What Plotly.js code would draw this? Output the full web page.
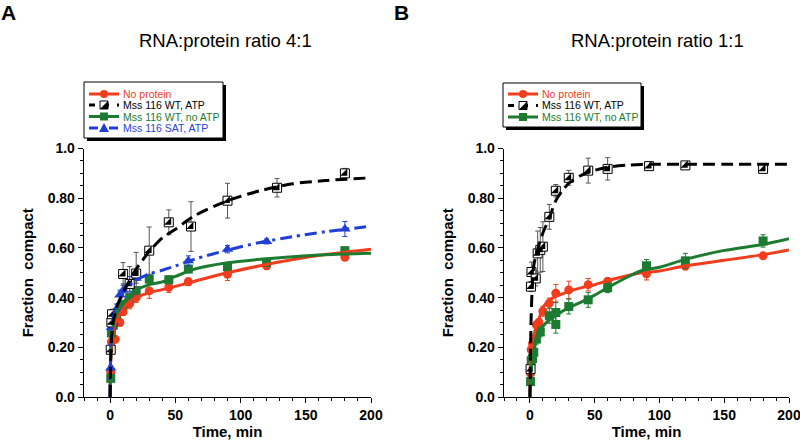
<!DOCTYPE html>
<html><head><meta charset="utf-8">
<script src="https://cdn.plot.ly/plotly-3.0.1.min.js"></script>
<style>html,body{margin:0;padding:0;background:#fff}#chart{width:800px;height:440px}</style>
</head><body><div id="chart"></div>
<script>
// ---------- series names & colours ----------
const seriesNames = ["No protein", "Mss 116 WT, ATP", "Mss 116 WT, no ATP", "Mss 116 SAT, ATP"];
const seriesColors = ["#f23c1e", "#000000", "#1c7a31", "#1f3fd6"];
const panelTitles = ["RNA:protein ratio 4:1", "RNA:protein ratio 1:1"];
const panelLetters = ["A", "B"];
const xTickVals = [0, 50, 100, 150, 200];
const yTickVals = [0, 0.2, 0.4, 0.6, 0.8, 1.0];
const yTickText = ["0.0", "0.20", "0.40", "0.60", "0.80", "1.0"];

// ---------- Panel A (4:1) measured points ----------
const aRedT = [0.5, 1, 4, 7.5, 10, 15, 20, 30, 45, 60, 90, 120, 180];
const aRedV = [0.10, 0.222, 0.232, 0.30, 0.343, 0.375, 0.40, 0.427, 0.441, 0.464, 0.494, 0.528, 0.562];
const aRedE = [0.01, 0.01, 0.01, 0.015, 0.015, 0.02, 0.02, 0.03, 0.02, 0.015, 0.025, 0.015, 0.01];

const aBlkT = [0.5, 1, 1.5, 10, 15, 20, 30, 45, 62, 90, 128, 180];
const aBlkV = [0.19, 0.30, 0.333, 0.495, 0.455, 0.497, 0.589, 0.703, 0.686, 0.79, 0.842, 0.90];
const aBlkE = [0.01, 0.015, 0.02, 0.046, 0.07, 0.085, 0.095, 0.05, 0.1, 0.07, 0.037, 0.02];

const aGrnT = [0.5, 1, 2.5, 5, 10, 15, 20, 30, 45, 60, 90, 120, 180];
const aGrnV = [0.075, 0.258, 0.29, 0.333, 0.371, 0.40, 0.428, 0.475, 0.472, 0.515, 0.524, 0.541, 0.589];
const aGrnE = [0.01, 0.01, 0.01, 0.015, 0.015, 0.015, 0.015, 0.015, 0.015, 0.015, 0.015, 0.01, 0.01];

const aBluT = [0.5, 1, 2.5, 5, 7.5, 10, 15, 20, 60, 90, 120, 180];
const aBluV = [0.117, 0.28, 0.30, 0.354, 0.41, 0.43, 0.455, 0.478, 0.548, 0.595, 0.626, 0.676];
const aBluE = [0.01, 0.01, 0.015, 0.02, 0.02, 0.025, 0.03, 0.02, 0.02, 0.015, 0.01, 0.03];

// ---------- Panel A fitted curves ----------
const aFitT = [0, 0.5, 1, 2, 5, 10, 15, 20, 30, 40, 50, 65, 90, 115, 140, 165, 200];
const aFitRed = [0, 0.15, 0.2, 0.25, 0.31, 0.355, 0.385, 0.40, 0.42, 0.432, 0.445, 0.466, 0.50, 0.528, 0.553, 0.573, 0.595];
const aFitBlk = [0, 0.15, 0.22, 0.29, 0.36, 0.42, 0.47, 0.515, 0.585, 0.64, 0.675, 0.73, 0.79, 0.83, 0.858, 0.871, 0.882];
const aFitGrn = [0, 0.18, 0.24, 0.28, 0.34, 0.38, 0.41, 0.43, 0.452, 0.463, 0.485, 0.515, 0.54, 0.554, 0.564, 0.572, 0.578];
const aFitBlu = [0, 0.2, 0.27, 0.31, 0.37, 0.42, 0.45, 0.47, 0.495, 0.51, 0.527, 0.555, 0.591, 0.622, 0.645, 0.665, 0.687];

// ---------- Panel B (1:1) measured points ----------
const bRedT = [0.5, 1, 2, 5, 7, 10, 15, 20, 30, 45, 60, 90, 120, 180];
const bRedV = [0.095, 0.19, 0.215, 0.29, 0.30, 0.345, 0.378, 0.418, 0.431, 0.452, 0.465, 0.496, 0.527, 0.568];
const bRedE = [0.01, 0.01, 0.01, 0.015, 0.015, 0.02, 0.02, 0.035, 0.035, 0.025, 0.015, 0.025, 0.015, 0.01];

const bBlkT = [0.5, 0.8, 1.2, 4.5, 6, 8, 10, 15, 20, 30, 45, 60, 92, 120, 180];
const bBlkV = [0.112, 0.444, 0.503, 0.477, 0.578, 0.592, 0.605, 0.725, 0.83, 0.882, 0.911, 0.918, 0.929, 0.932, 0.918];
const bBlkE = [0.01, 0.02, 0.04, 0.03, 0.09, 0.09, 0.1, 0.05, 0.025, 0.03, 0.05, 0.045, 0.01, 0.01, 0.01];

const bGrnT = [0.5, 1, 2, 3, 5, 8, 15, 20, 20, 30, 45, 60, 90, 120, 180];
const bGrnV = [0.062, 0.146, 0.155, 0.18, 0.233, 0.262, 0.327, 0.34, 0.292, 0.364, 0.391, 0.44, 0.528, 0.548, 0.628];
const bGrnE = [0.01, 0.01, 0.01, 0.015, 0.02, 0.02, 0.03, 0.04, 0.035, 0.03, 0.03, 0.02, 0.025, 0.03, 0.025];

// ---------- Panel B fitted curves ----------
const bFitT = [0, 0.5, 1, 2, 3, 5, 8, 10, 15, 20, 25, 30, 40, 50, 60, 75, 86, 100, 120, 150, 180, 200];
const bFitBlk = [0, 0.2, 0.33, 0.46, 0.53, 0.575, 0.63, 0.66, 0.72, 0.79, 0.83, 0.86, 0.893, 0.912, 0.925, 0.933, 0.936, 0.937, 0.937, 0.937, 0.937, 0.937];
const bFitRed = [0, 0.15, 0.2, 0.23, 0.25, 0.285, 0.33, 0.36, 0.39, 0.405, 0.415, 0.425, 0.44, 0.452, 0.468, 0.488, 0.50, 0.507, 0.528, 0.55, 0.573, 0.592];
const bFitGrn = [0, 0.07, 0.11, 0.15, 0.18, 0.23, 0.27, 0.285, 0.31, 0.327, 0.345, 0.36, 0.383, 0.41, 0.44, 0.482, 0.508, 0.522, 0.554, 0.59, 0.614, 0.637];

// ---------- helpers ----------
const FONT = "Liberation Sans, Arial, Helvetica, sans-serif";
const W = 800, H = 440;
const px = x => x / W, py = y => 1 - y / H;
const dashStyles = ["solid", "12px,6px", "solid", "12px,5px,3px,5px"];

function pointsTrace(t, v, e, idx, ax) {
  const c = seriesColors[idx];
  const isBlk = idx === 1;
  const sym = ["circle", "square", "square", "triangle-up"][idx];
  return {
    x: t, y: v, xaxis: ax[0], yaxis: ax[1], type: "scatter", mode: "markers",
    showlegend: false, cliponaxis: false,
    marker: { symbol: sym, size: idx === 3 ? 10 : 9, color: isBlk ? "#ffffff" : c,
              line: { color: isBlk ? "#000" : c, width: isBlk ? 1 : 0 } },
    error_y: { type: "data", array: e, visible: true, color: isBlk ? "#555" : c, thickness: 1, width: 2.5 }
  };
}
function halfFill(t, v, ax) {
  return { x: t, y: v, xaxis: ax[0], yaxis: ax[1], type: "scatter", mode: "markers", showlegend: false,
    cliponaxis: false, marker: { symbol: "triangle-se", size: 8, color: "#000" } };
}
function fitTrace(t, v, idx, ax) {
  return { x: t, y: v, xaxis: ax[0], yaxis: ax[1], type: "scatter", mode: "lines", showlegend: false,
    line: { color: seriesColors[idx], width: 3, shape: "spline", smoothing: 0.8, dash: dashStyles[idx] } };
}

const axA = ["x", "y"], axB = ["x2", "y2"];
const data = [
  pointsTrace(aRedT, aRedV, aRedE, 0, axA),
  pointsTrace(aGrnT, aGrnV, aGrnE, 2, axA),
  pointsTrace(aBluT, aBluV, aBluE, 3, axA),
  pointsTrace(aBlkT, aBlkV, aBlkE, 1, axA),
  halfFill(aBlkT, aBlkV, axA),
  fitTrace(aFitT, aFitRed, 0, axA),
  fitTrace(aFitT, aFitGrn, 2, axA),
  fitTrace(aFitT, aFitBlu, 3, axA),
  fitTrace(aFitT, aFitBlk, 1, axA),

  pointsTrace(bRedT, bRedV, bRedE, 0, axB),
  pointsTrace(bGrnT, bGrnV, bGrnE, 2, axB),
  pointsTrace(bBlkT, bBlkV, bBlkE, 1, axB),
  halfFill(bBlkT, bBlkV, axB),
  fitTrace(bFitT, bFitRed, 0, axB),
  fitTrace(bFitT, bFitGrn, 2, axB),
  fitTrace(bFitT, bFitBlk, 1, axB)
];

const yDom = [1 - 397 / H, 1 - 148.5 / H];
function xAxis(dom, anchor) {
  return {
    domain: dom, anchor: anchor, range: [-20, 200], showgrid: false, zeroline: false,
    showline: true, linecolor: "#000", linewidth: 1.3, ticks: "outside", ticklen: 5, tickwidth: 1, tickcolor: "#000",
    tickmode: "array", tickvals: xTickVals, ticktext: xTickVals.map(String), ticklabeloverflow: "allow",
    tickfont: { family: FONT, size: 14, weight: "bold", color: "#000" },
    minor: { tickmode: "linear", tick0: 0, dtick: 10, ticks: "outside", ticklen: 3, tickcolor: "#000", tickwidth: 1, showgrid: false },
    title: { text: "Time, min", font: { family: FONT, size: 15, weight: "bold", color: "#000" }, standoff: 6 }
  };
}
function yAxis(anchor) {
  return {
    domain: yDom, anchor: anchor, range: [0, 1], showgrid: false, zeroline: false,
    showline: true, linecolor: "#000", linewidth: 1.3, ticks: "outside", ticklen: 5, tickwidth: 1, tickcolor: "#000",
    tickmode: "array", tickvals: yTickVals, ticktext: yTickText,
    tickfont: { family: FONT, size: 14, weight: "bold", color: "#000" },
    minor: { tickmode: "linear", tick0: 0, dtick: 0.05, ticks: "outside", ticklen: 3, tickcolor: "#000", tickwidth: 1, showgrid: false },
    title: { text: "Fraction  compact", font: { family: FONT, size: 15, weight: "bold", color: "#000" }, standoff: 10 }
  };
}

// ---------- legends (box + shadow + samples + coloured text) ----------
const shapes = [], annotations = [];
function legend(box, rows, idxs) {
  shapes.push({ type: "rect", xref: "paper", yref: "paper", x0: px(box[0] + 3), x1: px(box[2] + 3), y0: py(box[1] + 3), y1: py(box[3] + 3),
    fillcolor: "#000", line: { width: 0 } });
  shapes.push({ type: "rect", xref: "paper", yref: "paper", x0: px(box[0]), x1: px(box[2]), y0: py(box[1]), y1: py(box[3]),
    fillcolor: "#fff", line: { color: "#000", width: 1 } });
  idxs.forEach((idx, k) => {
    const yc = rows[k], x0 = box[0] + 5, x1 = x0 + 30, xm = (x0 + x1) / 2, c = seriesColors[idx];
    const dash = idx === 1 ? "6px,8px" : (idx === 3 ? "9px,4px,3px,4px" : "solid");
    shapes.push({ type: "line", xref: "paper", yref: "paper", x0: px(x0), x1: px(x1), y0: py(yc), y1: py(yc),
      line: { color: c, width: 3, dash: dash } });
    if (idx === 0) {
      shapes.push({ type: "circle", xref: "paper", yref: "paper", x0: px(xm - 4), x1: px(xm + 4), y0: py(yc - 4), y1: py(yc + 4), fillcolor: c, line: { width: 0 } });
    } else if (idx === 2) {
      shapes.push({ type: "rect", xref: "paper", yref: "paper", x0: px(xm - 4), x1: px(xm + 4), y0: py(yc - 4), y1: py(yc + 4), fillcolor: c, line: { width: 0 } });
    } else if (idx === 3) {
      shapes.push({ type: "path", xref: "paper", yref: "paper",
        path: `M ${px(xm - 5)} ${py(yc + 4)} L ${px(xm + 5)} ${py(yc + 4)} L ${px(xm)} ${py(yc - 5)} Z`, fillcolor: c, line: { width: 0 } });
    } else {
      shapes.push({ type: "rect", xref: "paper", yref: "paper", x0: px(xm - 4), x1: px(xm + 4), y0: py(yc - 4), y1: py(yc + 4), fillcolor: "#fff", line: { color: "#000", width: 1 } });
      shapes.push({ type: "path", xref: "paper", yref: "paper",
        path: `M ${px(xm - 4)} ${py(yc + 4)} L ${px(xm + 4)} ${py(yc + 4)} L ${px(xm + 4)} ${py(yc - 4)} Z`, fillcolor: "#000", line: { width: 0 } });
    }
    annotations.push({ xref: "paper", yref: "paper", x: px(x1 + 2), y: py(yc), xanchor: "left", yanchor: "middle",
      showarrow: false, text: seriesNames[idx], font: { family: FONT, size: 10.5, color: c } });
  });
}
legend([84, 82, 223, 138], [94, 105, 116.5, 128], [0, 1, 2, 3]);
legend([503, 83, 641, 127], [94, 105.5, 117], [0, 1, 2]);

// titles and panel letters
annotations.push({ xref: "paper", yref: "paper", x: px(225), y: py(40), xanchor: "center", yanchor: "middle", showarrow: false,
  text: panelTitles[0], font: { family: FONT, size: 18.5, color: "#000" } });
annotations.push({ xref: "paper", yref: "paper", x: px(657), y: py(40), xanchor: "center", yanchor: "middle", showarrow: false,
  text: panelTitles[1], font: { family: FONT, size: 18.5, color: "#000" } });
annotations.push({ xref: "paper", yref: "paper", x: px(-1), y: py(-1), xanchor: "left", yanchor: "top", showarrow: false,
  text: panelLetters[0], font: { family: FONT, size: 21, weight: "bold", color: "#000" } });
annotations.push({ xref: "paper", yref: "paper", x: px(392), y: py(-1), xanchor: "left", yanchor: "top", showarrow: false,
  text: panelLetters[1], font: { family: FONT, size: 21, weight: "bold", color: "#000" } });

const layout = {
  width: W, height: H, margin: { l: 0, r: 0, t: 0, b: 0 },
  paper_bgcolor: "#fff", plot_bgcolor: "#fff", showlegend: false,
  font: { family: FONT, color: "#000" },
  xaxis: xAxis([84 / W, 371 / W], "y"),
  yaxis: yAxis("x"),
  xaxis2: xAxis([504 / W, 789 / W], "y2"),
  yaxis2: yAxis("x2"),
  shapes: shapes, annotations: annotations
};

Plotly.newPlot("chart", data, layout, { displayModeBar: false, staticPlot: true });
</script></body></html>
